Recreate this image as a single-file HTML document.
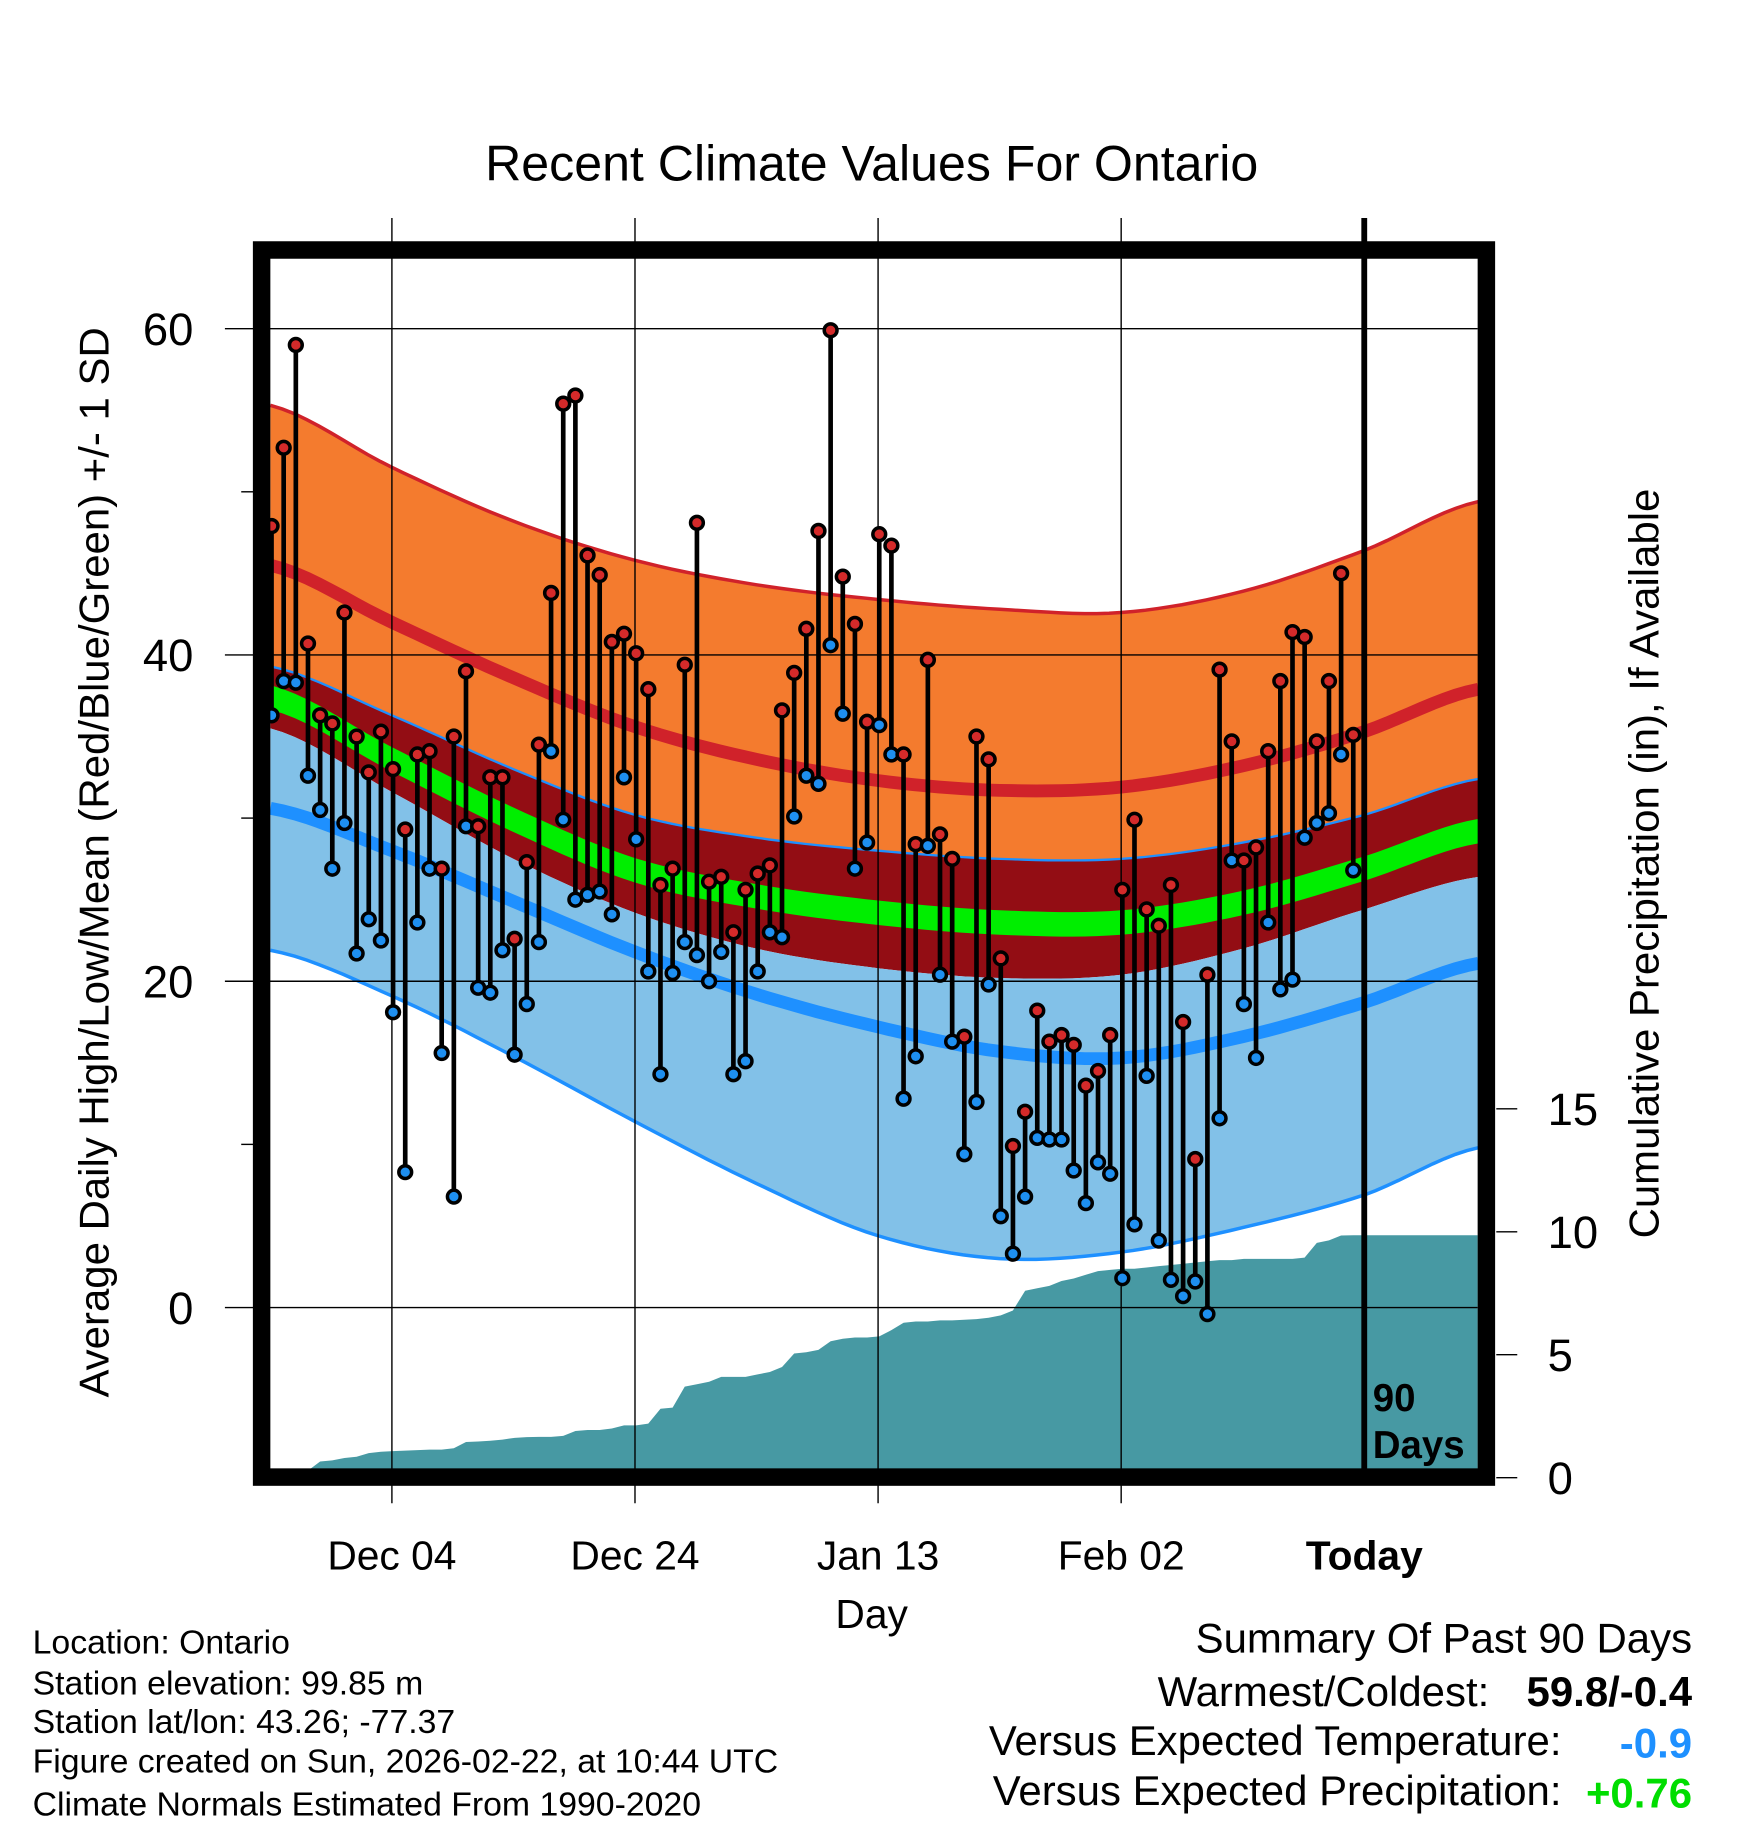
<!DOCTYPE html>
<html><head><meta charset="utf-8"><style>
html,body{margin:0;padding:0;background:#fff}
svg{display:block;font-family:"Liberation Sans",Arial,sans-serif}
</style></head><body>
<svg id="chart" width="1748" height="1828" viewBox="0 0 1500 1568.6" xmlns="http://www.w3.org/2000/svg">
<g id="bands"></g><g id="precip"></g><g id="grid"></g><g id="marks"></g><g id="frame"></g><g id="labels"></g>
</svg>
<script>
const highs=[47.9,52.7,59.0,40.7,36.3,35.8,42.6,35.0,32.8,35.3,33.0,29.3,33.9,34.1,26.9,35.0,39.0,29.5,32.5,32.5,22.6,27.3,34.5,43.8,55.4,55.9,46.1,44.9,40.8,41.3,40.1,37.9,25.9,26.9,39.4,48.1,26.1,26.4,23.0,25.6,26.6,27.1,36.6,38.9,41.6,47.6,59.9,44.8,41.9,35.9,47.4,46.7,33.9,28.4,39.7,29.0,27.5,16.6,35.0,33.6,21.4,9.9,12.0,18.2,16.3,16.7,16.1,13.6,14.5,16.7,25.6,29.9,24.4,23.4,25.9,17.5,9.1,20.4,39.1,34.7,27.4,28.2,34.1,38.4,41.4,41.1,34.7,38.4,45.0,35.1];
const lows=[36.3,38.4,38.3,32.6,30.5,26.9,29.7,21.7,23.8,22.5,18.1,8.3,23.6,26.9,15.6,6.8,29.5,19.6,19.3,21.9,15.5,18.6,22.4,34.1,29.9,25.0,25.3,25.5,24.1,32.5,28.7,20.6,14.3,20.5,22.4,21.6,20.0,21.8,14.3,15.1,20.6,23.0,22.7,30.1,32.6,32.1,40.6,36.4,26.9,28.5,35.7,33.9,12.8,15.4,28.3,20.4,16.3,9.4,12.6,19.8,5.6,3.3,6.8,10.4,10.3,10.3,8.4,6.4,8.9,8.2,1.8,5.1,14.2,4.1,1.7,0.7,1.6,-0.4,11.6,27.4,18.6,15.3,23.6,19.5,20.1,28.8,29.7,30.3,33.9,26.8];
const precipCum=[0,0,0,0,0.66,0.7,0.8,0.85,1.0,1.05,1.08,1.1,1.12,1.14,1.14,1.2,1.45,1.47,1.5,1.55,1.62,1.65,1.66,1.66,1.7,1.9,1.94,1.94,2.0,2.13,2.13,2.2,2.8,2.85,3.7,3.8,3.9,4.1,4.1,4.1,4.2,4.3,4.5,5.05,5.1,5.2,5.55,5.65,5.7,5.7,5.75,6.0,6.3,6.35,6.35,6.4,6.4,6.42,6.45,6.5,6.6,6.8,7.6,7.7,7.8,8.0,8.1,8.25,8.4,8.45,8.5,8.5,8.55,8.6,8.65,8.7,8.75,8.8,8.85,8.85,8.9,8.9,8.9,8.9,8.9,8.95,9.55,9.65,9.85,9.86];
const normDays=[0,10,20,30,40,50,60,70,80,90,99.4];
const normTop=[55.3,51.5,48.2,45.8,44.3,43.4,42.8,42.6,43.9,46.4,49.4];
const normHigh=[45.5,42.0,38.6,35.6,33.6,32.3,31.7,31.9,33.2,35.3,37.9];
const normHighLow=[39.3,36.3,33.0,30.2,28.8,28.0,27.5,27.5,28.5,30.2,32.4];
const normMean=[37.4,33.6,29.9,26.8,25.2,24.2,23.6,23.6,24.8,26.9,29.2];
const normDarkBottom=[35.5,31.6,27.5,24.2,22.0,20.8,20.2,20.4,22.0,24.4,26.4];
const normLow=[30.6,28.0,24.9,21.8,19.2,17.2,15.7,15.3,16.6,18.7,21.1];
const normBottom=[21.9,19.1,15.4,11.4,7.6,4.4,3.0,3.4,4.9,6.9,9.8];
const xTickLabels=["Dec 04","Dec 24","Jan 13","Feb 02","Today"];
const xTickDays=[10,30,50,70,90];
const yTicks=[0,20,40,60];
const yMinor=[10,30,50];
const pTicks=[0,5,10,15];

const NS="http://www.w3.org/2000/svg";
const X0=232,X1=1268,DAY=10.43,Y0=1262,Y1=214;
const xs=d=>X0+d*DAY;
const ys=v=>1122-v*14;
const ps=p=>1268-p*21.1;
function el(t,a,parent){const e=document.createElementNS(NS,t);for(const k in a)e.setAttribute(k,a[k]);document.getElementById(parent).appendChild(e);return e;}
function curve(vals){const pts=[];const n=normDays.length;
 for(let i=0;i<n-1;i++){const p0=vals[Math.max(0,i-1)],p1=vals[i],p2=vals[i+1],p3=vals[Math.min(n-1,i+2)];
  const d1=normDays[i],d2=normDays[i+1];
  for(let s=0;s<10;s++){const t=s/10;const v=0.5*((2*p1)+(-p0+p2)*t+(2*p0-5*p1+4*p2-p3)*t*t+(-p0+3*p1-3*p2+p3)*t*t*t);
   pts.push([xs(d1+(d2-d1)*t),ys(v)]);}}
 pts.push([xs(normDays[n-1]),ys(vals[n-1])]);return pts;}
const ptsStr=a=>a.map(p=>p[0].toFixed(1)+","+p[1].toFixed(1)).join(" ");
function band(a,b,fill,name){const A=curve(a),B=curve(b).reverse();
 const e=el("polygon",{points:ptsStr(A.concat(B)),fill:fill},"bands");
 
 }
function line(a,color,w,name){const e=el("polyline",{points:ptsStr(curve(a)),fill:"none",stroke:color,"stroke-width":w},"bands");
 
 }
band(normTop,normHighLow,"#f47b2e","high-sd-band");
band(normHighLow,normDarkBottom,"#930d14","mean-sd-band");
band(normDarkBottom,normBottom,"#82c1e8","low-sd-band");
band(normMean.map(v=>v+0.75),normMean.map(v=>v-0.75),"#00ee00","mean-normal-band");
line(normTop,"#d0222a",3,"upper-sd-line");
line(normHigh,"#d0222a",11,"normal-high-line");
line(normHighLow,"#1e90ff",2,"high-minus-sd-line");
line(normLow,"#1e90ff",11,"normal-low-line");
line(normBottom,"#1e90ff",3,"lower-sd-line");

let pp=[[xs(0),Y0]];
precipCum.forEach((v,i)=>pp.push([X0+1+i*DAY,Math.min(Y0,ps(v))]));
pp.push([X1,Math.min(Y0,ps(precipCum[precipCum.length-1]))]);pp.push([X1,Y0]);
const pr=el("polygon",{points:ptsStr(pp),fill:"#4799a3"},"precip");



yTicks.forEach(v=>{const g=el("line",{x1:193,x2:X1,y1:ys(v),y2:ys(v),stroke:"#000","stroke-width":1.2},"grid");
 
 
 const t=el("text",{x:166,y:ys(v)+14,"font-size":39,"text-anchor":"end"},"labels");t.textContent=v;
 
 });
yMinor.forEach(v=>{const g=el("line",{x1:207,x2:218,y1:ys(v),y2:ys(v),stroke:"#000","stroke-width":1.2},"grid");
 
 });
xTickDays.forEach((d,i)=>{const x=xs(d);
 if(i<4){const g=el("line",{x1:x,x2:x,y1:187,y2:1290,stroke:"#000","stroke-width":1.2},"grid");
  
  }
 const t=el("text",{x:x,y:1347,"font-size":35,"text-anchor":"middle","font-weight":i==4?"bold":"normal"},"labels");t.textContent=xTickLabels[i];
 
 });
pTicks.forEach(p=>{const g=el("line",{x1:1284,x2:1302,y1:ps(p),y2:ps(p),stroke:"#000","stroke-width":1.2},"grid");
 
 
 const t=el("text",{x:1328,y:ps(p)+14,"font-size":39},"labels");t.textContent=p;
 
 });

highs.forEach((h,i)=>{const x=xs(0)+1+i*DAY;
 const l=el("line",{x1:x,x2:x,y1:ys(h),y2:ys(lows[i]),stroke:"#000","stroke-width":4},"marks");
 
 });
highs.forEach((h,i)=>{const x=xs(0)+1+i*DAY;
 const a=el("circle",{cx:x,cy:ys(h),r:5.5,fill:"#d42a2a",stroke:"#000","stroke-width":3},"marks");
 
 
 const b=el("circle",{cx:x,cy:ys(lows[i]),r:5.5,fill:"#1e8ff0",stroke:"#000","stroke-width":3},"marks");
 
 });

const td=el("line",{x1:xs(90),x2:xs(90),y1:187,y2:Y0,stroke:"#000","stroke-width":5},"frame");


const fr=el("rect",{x:224.5,y:214.5,width:1051,height:1053,fill:"none",stroke:"#000","stroke-width":15},"frame");


</script>
<script>
(function(){const NS="http://www.w3.org/2000/svg";const g=document.getElementById("labels");
function T(txt,a,name){const e=document.createElementNS(NS,"text");for(const k in a)e.setAttribute(k,a[k]);e.textContent=txt;
 
 
 g.appendChild(e);return e;}
T("Recent Climate Values For Ontario",{x:748,y:155,"font-size":43,"text-anchor":"middle"},"chart-title");
T("Day",{x:748,y:1397,"font-size":35,"text-anchor":"middle"},"x-axis-title");
T("Average Daily High/Low/Mean (Red/Blue/Green) +/- 1 SD",{x:0,y:0,"font-size":36,"text-anchor":"middle",transform:"translate(93,740) rotate(-90)"},"y-axis-title");
T("Cumulative Precipitation (in), If Available",{x:0,y:0,"font-size":36,"text-anchor":"middle",transform:"translate(1423,741) rotate(-90)"},"precip-axis-title");
T("90",{x:1178,y:1211,"font-size":33,"font-weight":"bold"},"days-label-number");
T("Days",{x:1178,y:1251,"font-size":33,"font-weight":"bold"},"days-label-text");
const info=["Location: Ontario","Station elevation: 99.85 m","Station lat/lon: 43.26; -77.37","Figure created on Sun, 2026-02-22, at 10:44 UTC","Climate Normals Estimated From 1990-2020"];
const iy=[1419,1454,1487,1521,1558];
info.forEach((s,i)=>T(s,{x:28,y:iy[i],"font-size":29},"station-info-line"));
T("Summary Of Past 90 Days",{x:1452,y:1418,"font-size":36,"text-anchor":"end"},"summary-title");
T("Warmest/Coldest:",{x:1278,y:1464,"font-size":36,"text-anchor":"end"},"warmest-coldest-label");
T("59.8/-0.4",{x:1452,y:1464,"font-size":36,"text-anchor":"end","font-weight":"bold"},"warmest-coldest-value");
T("Versus Expected Temperature:",{x:1340,y:1506,"font-size":36,"text-anchor":"end"},"temp-anomaly-label");
T("-0.9",{x:1452,y:1508,"font-size":36,"text-anchor":"end","font-weight":"bold",fill:"#1e90ff"},"temp-anomaly-value");
T("Versus Expected Precipitation:",{x:1340,y:1549,"font-size":36,"text-anchor":"end"},"precip-anomaly-label");
T("+0.76",{x:1452,y:1551,"font-size":36,"text-anchor":"end","font-weight":"bold",fill:"#00dd00"},"precip-anomaly-value");
})();
</script>
</body></html>
